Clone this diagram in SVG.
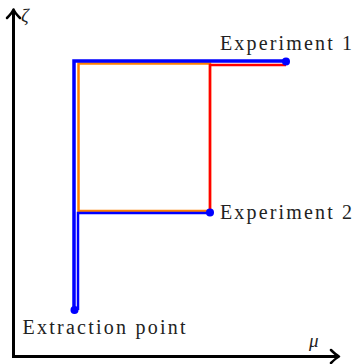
<svg xmlns="http://www.w3.org/2000/svg" width="355" height="364" viewBox="0 0 355 364">
<style>
.lbl{font-family:"Liberation Serif","Times New Roman",serif;font-size:20px;fill:#222}
.greek{font-family:"Liberation Serif","Times New Roman",serif;font-size:19px;font-style:italic;fill:#222}
.axis{stroke:#000;stroke-width:3;fill:none}
.head{stroke:#000;stroke-width:2.5;fill:none;stroke-linecap:round;stroke-linejoin:round}
.blue{stroke:#0000ff;fill:none}
</style>
<g id="axes">
<line class="axis" x1="13.5" y1="358" x2="13.5" y2="10"/>
<path class="head" d="M7,18 Q12,13 13.5,9.5 Q15,13 20,18"/>
<line class="axis" x1="12" y1="356.5" x2="338" y2="356.5"/>
<path class="head" d="M331,350 Q336,355 339,356.5 Q336,358 331,363"/>
<text class="greek" x="21" y="22">ζ</text>
<text class="greek" x="309" y="347">μ</text>
</g>
<g id="connectors">
<path d="M78.5,211 H210 V63.5 H78.5 Z" stroke="#ff8000" stroke-width="2.5" fill="none"/>
<path d="M210,212 V65 H286" stroke="#ff0000" stroke-width="2.5" fill="none"/>
<path class="blue" d="M74,310 V61 H286" stroke-width="3.5"/>
<path class="blue" d="M78,310 V213 H210" stroke-width="2.5"/>
</g>
<g id="experiment1">
<circle cx="286" cy="61.5" r="4" fill="#0000ff"/>
<text class="lbl" x="220" y="50" textLength="132">Experiment 1</text>
</g>
<g id="experiment2">
<circle cx="210" cy="212.5" r="4" fill="#0000ff"/>
<text class="lbl" x="220" y="219" textLength="132">Experiment 2</text>
</g>
<g id="extraction">
<circle cx="74.5" cy="310" r="4" fill="#0000ff"/>
<text class="lbl" x="22.5" y="334" textLength="163">Extraction point</text>
</g>
</svg>
